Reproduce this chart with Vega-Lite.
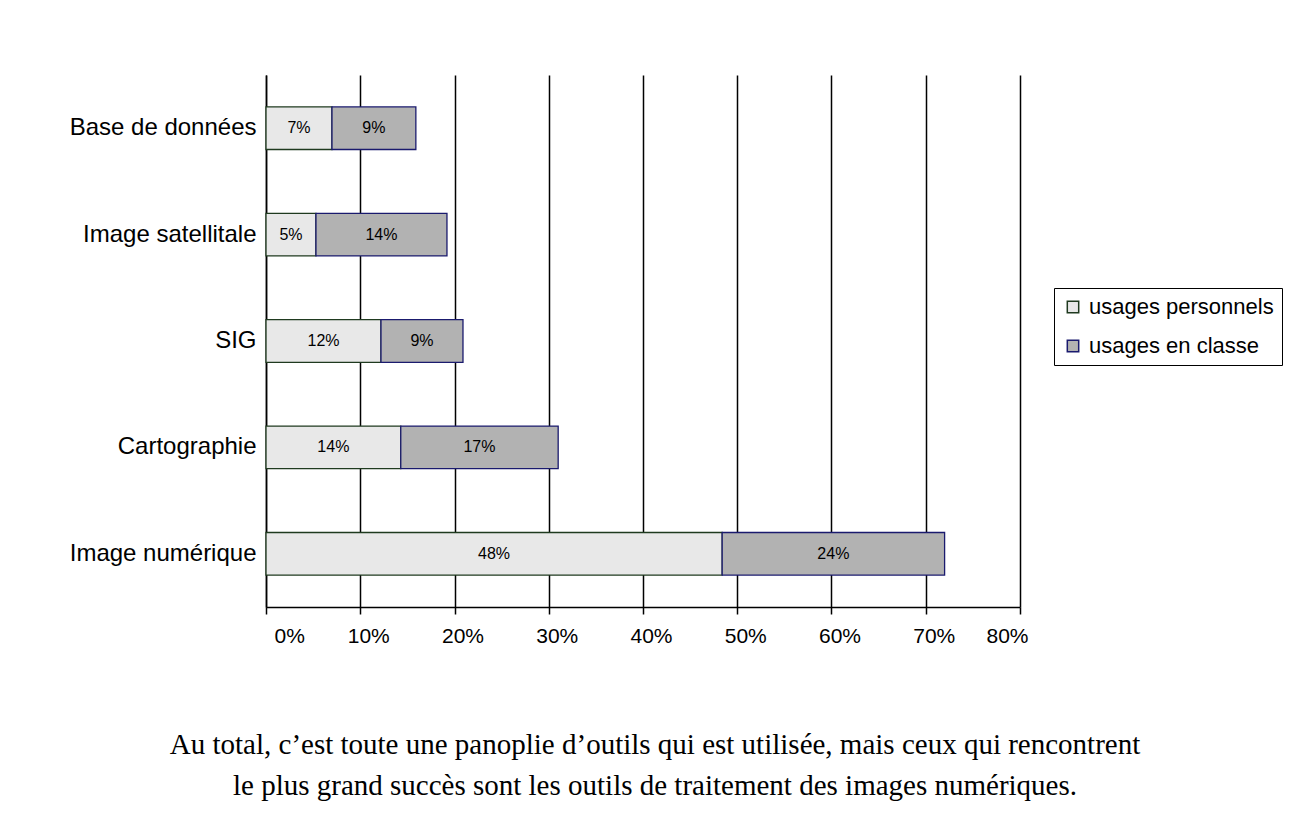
{
  "$schema": "https://vega.github.io/schema/vega-lite/v6.json",
  "autosize": "none",
  "width": 754,
  "height": 532,
  "padding": {"left": 266, "top": 75, "right": 294, "bottom": 223},
  "background": "white",
  "config": {"view": {"stroke": null}},
  "title": {
    "text": ["Au total, c’est toute une panoplie d’outils qui est utilisée, mais ceux qui rencontrent", "le plus grand succès sont les outils de traitement des images numériques."],
    "orient": "bottom",
    "anchor": "middle",
    "frame": "group",
    "font": "Liberation Serif",
    "fontSize": 29,
    "fontWeight": "normal",
    "color": "black",
    "lineHeight": 41,
    "offset": 85,
    "dx": 12
  },
  "data": {
    "values": [
      {"outil": "Base de données", "serie": "usages personnels", "value": 0.070},
      {"outil": "Base de données", "serie": "usages en classe", "value": 0.089},
      {"outil": "Image satellitale", "serie": "usages personnels", "value": 0.053},
      {"outil": "Image satellitale", "serie": "usages en classe", "value": 0.139},
      {"outil": "SIG", "serie": "usages personnels", "value": 0.122},
      {"outil": "SIG", "serie": "usages en classe", "value": 0.087},
      {"outil": "Cartographie", "serie": "usages personnels", "value": 0.143},
      {"outil": "Cartographie", "serie": "usages en classe", "value": 0.167},
      {"outil": "Image numérique", "serie": "usages personnels", "value": 0.484},
      {"outil": "Image numérique", "serie": "usages en classe", "value": 0.236}
    ]
  },
  "transform": [
    {"stack": "value", "groupby": ["outil"], "sort": [{"field": "serie", "order": "descending"}], "as": ["x0", "x1"]},
    {"calculate": "(datum.x0 + datum.x1) / 2", "as": "xmid"}
  ],
  "layer": [
    {
      "mark": {"type": "bar", "strokeWidth": 1.3},
      "encoding": {
        "y": {
          "field": "outil", "type": "nominal",
          "sort": ["Base de données", "Image satellitale", "SIG", "Cartographie", "Image numérique"],
          "scale": {"paddingInner": 0.6, "paddingOuter": 0.3},
          "axis": {"title": null, "labelFont": "Liberation Sans", "labelFontSize": 24, "labelLimit": 400, "labelColor": "black", "labelPadding": 10, "ticks": false, "domainColor": "black", "domainWidth": 1.5}
        },
        "x": {
          "field": "x0", "type": "quantitative",
          "scale": {"domain": [0, 0.8], "nice": false},
          "axis": {"title": null, "format": ".0%", "values": [0, 0.1, 0.2, 0.3, 0.4, 0.5, 0.6, 0.7, 0.8], "labelFont": "Liberation Sans", "labelFontSize": 21, "labelColor": "black", "labelPadding": 11, "labelOffset": 8, "tickSize": 7, "tickColor": "black", "tickWidth": 1.5, "domainColor": "black", "domainWidth": 1.5, "gridColor": "black", "gridWidth": 1.5, "gridOpacity": 1}
        },
        "x2": {"field": "x1"},
        "color": {
          "field": "serie", "type": "nominal",
          "scale": {"domain": ["usages personnels", "usages en classe"], "range": ["#E8E8E8", "#B2B2B2"]},
          "legend": {"orient": "none", "legendX": 788, "legendY": 213, "title": null, "strokeColor": "black", "fillColor": "white", "padding": 8, "symbolType": "square", "symbolSize": 130, "symbolStrokeColor": "#1a1a6e", "symbolStrokeWidth": 1.5, "labelFont": "Liberation Sans", "labelFontSize": 22, "labelLimit": 400, "labelColor": "black", "labelOffset": 5, "rowPadding": 17}
        },
        "stroke": {
          "field": "serie", "type": "nominal",
          "scale": {"domain": ["usages personnels", "usages en classe"], "range": ["#1f3a1f", "#1a1a6e"]},
          "legend": null
        }
      }
    },
    {
      "mark": {"type": "text", "font": "Liberation Sans", "fontSize": 16, "color": "black"},
      "encoding": {
        "y": {"field": "outil", "type": "nominal", "sort": ["Base de données", "Image satellitale", "SIG", "Cartographie", "Image numérique"]},
        "x": {"field": "xmid", "type": "quantitative"},
        "text": {"field": "value", "type": "quantitative", "format": ".0%"}
      }
    }
  ]
}
